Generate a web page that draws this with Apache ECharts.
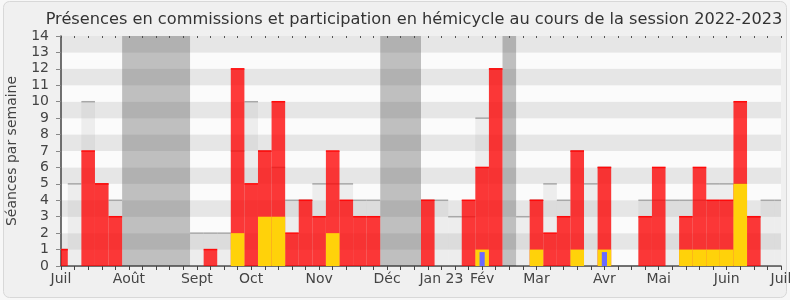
<!DOCTYPE html>
<html>
<head>
<meta charset="utf-8">
<script src="https://cdn.jsdelivr.net/npm/echarts@6/dist/echarts.min.js"></script>
<style>html,body{margin:0;padding:0;background:#f7f7f7;}#c{width:790px;height:300px;}</style>
</head>
<body>
<div id="c"></div>
<script>
// Week index 0..53 (week 0 = first week of July 2022)
var weeks = [];
for (var i = 0; i <= 53; i++) weeks.push(i);

// Présence en commission (red)
var commission = [1,0,7,5,3, 0,0,0,0,0, 0,1,0,12,5, 7,10,2,4,3, 7,4,3,3,0, 0,0,4,0,0, 4,6,12,0,0, 4,2,3,7,0, 6,0,0,3,6, 0,3,6,4,4, 10,3,0,0];
// Participation en hémicycle (yellow)
var hemicycle = [0,0,0,0,0, 0,0,0,0,0, 0,0,0,2,0, 3,3,0,0,0, 2,0,0,0,0, 0,0,0,0,0, 0,1,0,0,0, 1,0,0,1,0, 1,0,0,0,0, 0,1,1,1,1, 5,0,0,0];
// Questions orales (blue)
var questions = [0,0,0,0,0, 0,0,0,0,0, 0,0,0,0,0, 0,0,0,0,0, 0,0,0,0,0, 0,0,0,0,0, 0,1,0,0,0, 0,0,0,0,0, 1,0,0,0,0, 0,0,0,0,0, 0,0,0,0];
// Médiane des présences (grey step)
var mediane = [1,5,10,5,4, 0,0,0,0,0, 2,2,2,7,10, 7,6,4,4,5, 5,5,4,4,0, 0,0,4,4,3, 3,9,12,0,3, 4,5,4,7,5, 6,0,0,4,4, 4,4,4,5,5, 5,3,4,4];
// Vacances parlementaires (week ranges)
var vacances = [[4.5, 9.5], [23.5, 26.5], [32.5, 33.5]];
// Month tick labels at week index
var monthTicks = {0:'Juil',5:'Août',10:'Sept',14:'Oct',19:'Nov',24:'Déc',28:'Jan 23',31:'Fév',35:'Mar',40:'Avr',44:'Mai',49:'Juin',53:'Juil'};

var XMIN = 0, XMAX = 53;
var FONT = 'DejaVu Sans';

function pairs(arr){ return arr.map(function(v,i){ return [weeks[i], v]; }); }

function barRender(fill, topStroke, topWidth, halfW, topInset){
  return function(params, api){
    var k = api.value(0), v = api.value(1);
    if (!v) return null;
    var xa = Math.max(k - halfW, XMIN), xb = Math.min(k + halfW, XMAX);
    var p0 = api.coord([xa, v]), p1 = api.coord([xb, 0]);
    var y0 = p0[1] + (topInset || 0);
    var children = [{
      type:'rect',
      shape:{x:p0[0], y:y0, width:p1[0]-p0[0], height:p1[1]-y0},
      style:{fill:fill}
    }];
    if (topStroke) {
      children.push({type:'line', shape:{x1:p0[0], y1:y0, x2:p1[0], y2:y0}, style:{stroke:topStroke, lineWidth:topWidth}});
    }
    return {type:'group', children:children};
  };
}

var chart = echarts.init(document.getElementById('c'), null, {renderer:'canvas'});
chart.setOption({
  backgroundColor:'#f7f7f7',
  animation:false,
  graphic:[{type:'rect', z:-10, shape:{x:3.5, y:1.5, width:783, height:296, r:6}, style:{fill:'#f0f0f0', stroke:'#d8d8d8', lineWidth:1}}],
  title:{
    text:'Présences en commissions et participation en hémicycle au cours de la session 2022-2023',
    left:409, top:7, textAlign:'center',
    textStyle:{fontFamily:FONT, fontSize:16.2, fontWeight:'normal', color:'#333'}
  },
  grid:{left:61, right:9, top:36, bottom:34, containLabel:false, outerBoundsMode:'none'},
  xAxis:[{
    type:'value', min:XMIN, max:XMAX, interval:1, position:'bottom',
    axisLine:{show:true, lineStyle:{color:'#444', width:1.5}},
    axisTick:{show:true, length:4, lineStyle:{color:'#444'}},
    splitLine:{show:false},
    axisLabel:{show:true, showMinLabel:true, showMaxLabel:true, fontFamily:FONT, fontSize:14, color:'#444', margin:6,
      formatter:function(v){ return monthTicks[v] || ''; }}
  },{
    type:'value', min:XMIN, max:XMAX, interval:1, position:'top',
    axisLine:{show:false},
    axisTick:{show:true, inside:true, length:2, lineStyle:{color:'#555'}},
    axisLabel:{show:false}, splitLine:{show:false}
  }],
  yAxis:{
    type:'value', min:0, max:14, interval:1,
    name:'Séances par semaine', nameLocation:'middle', nameGap:42, nameRotate:90,
    nameTextStyle:{fontFamily:FONT, fontSize:14, color:'#444'},
    axisLine:{show:true, lineStyle:{color:'#444', width:1.5}},
    axisTick:{show:true, length:5, lineStyle:{color:'#888'}},
    axisLabel:{fontFamily:FONT, fontSize:14, color:'#444', margin:12},
    splitLine:{show:false},
    splitArea:{show:true, areaStyle:{color:['#fbfbfb','#e6e6e6']}}
  },
  series:[{
    type:'custom', name:'Médiane', data:pairs(mediane), encode:{x:0,y:1},
    renderItem:barRender('rgba(170,170,170,0.16)', '#a8a8a8', 1.5, 0.5, 0),
    markArea:{silent:true, itemStyle:{color:'rgba(70,70,70,0.33)'},
      data:vacances.map(function(r){ return [{xAxis:r[0], yAxis:0},{xAxis:r[1], yAxis:14}]; })},
    z:2
  },{
    type:'custom', name:'Présence en commission', data:pairs(commission), encode:{x:0,y:1},
    renderItem:barRender('rgba(255,0,0,0.77)', '#ff0a0a', 1.5, 0.5, 0), z:3
  },{
    type:'custom', name:'Participation en hémicycle', data:pairs(hemicycle), encode:{x:0,y:1},
    renderItem:barRender('#ffd20a', null, 0, 0.5, 0), z:4
  },{
    type:'custom', name:'Questions orales', data:pairs(questions), encode:{x:0,y:1},
    renderItem:barRender('#6a6aff', null, 0, 0.19, 2.5), z:5
  }]
});
</script>
</body>
</html>
